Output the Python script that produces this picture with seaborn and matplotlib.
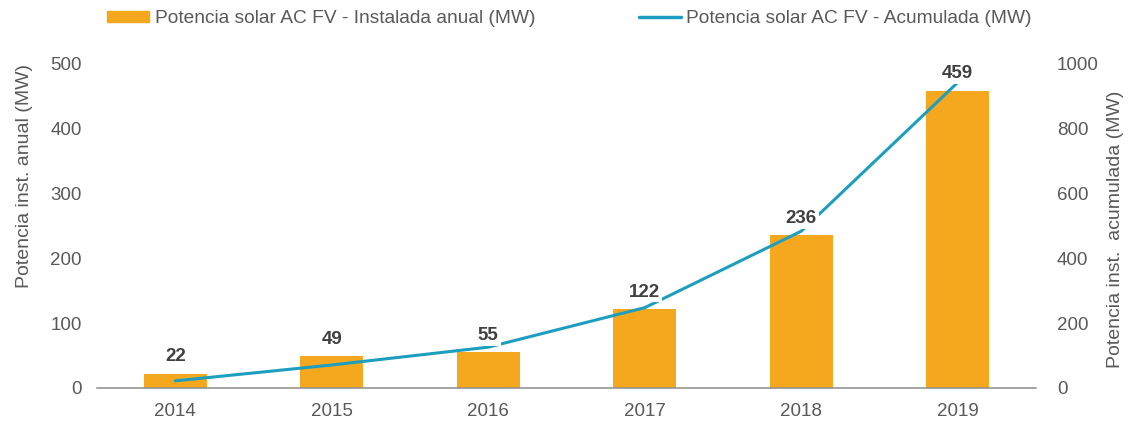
import numpy as np
import seaborn as sns
import matplotlib.pyplot as plt
from matplotlib.patches import Patch
from matplotlib.lines import Line2D

# Data
years = ['2014', '2015', '2016', '2017', '2018', '2019']
annual_mw = [22, 49, 55, 122, 236, 459]
cumulative_mw = [22, 71, 126, 248, 484, 943]

bar_color = '#F5A81E'
line_color = '#1E9EBE'
text_color = '#595959'

sns.set_style('white')
plt.rcParams['font.family'] = ['Liberation Sans', 'DejaVu Sans']

fig = plt.figure(figsize=(11.31, 4.21), dpi=100)
ax1 = fig.add_axes([97 / 1131, 33 / 421, 939 / 1131, 324 / 421])
ax2 = ax1.twinx()

x = np.arange(len(years))

# Bars - annual installed
sns.barplot(x=x, y=annual_mw, ax=ax1, color=bar_color, width=0.4,
            linewidth=0, saturation=1, native_scale=True)

# Line - cumulative
sns.lineplot(x=x, y=cumulative_mw, ax=ax2, color=line_color, linewidth=2.2)

ax1.set_xlim(-0.5, len(years) - 0.5)
ax1.set_ylim(0, 500)
ax2.set_ylim(0, 1000)
ax1.set_yticks(range(0, 501, 100))
ax2.set_yticks(range(0, 1001, 200))
ax1.set_xticks(x)
ax1.set_xticklabels(years)

for ax in (ax1, ax2):
    for s in ax.spines.values():
        s.set_visible(False)
    ax.grid(False)
ax1.spines['bottom'].set_visible(True)
ax1.spines['bottom'].set_color('#8C8C8C')
ax1.spines['bottom'].set_linewidth(1.1)

ax1.tick_params(axis='x', length=0, pad=11, labelsize=13.5, labelcolor=text_color)
ax1.tick_params(axis='y', length=0, pad=11, labelsize=13.5, labelcolor=text_color)
ax2.tick_params(axis='y', length=0, pad=15, labelsize=13.5, labelcolor=text_color)

ax1.set_xlabel('')
ax1.set_ylabel('Potencia inst. anual (MW)', fontsize=14, color=text_color)
ax2.set_ylabel('Potencia inst.  acumulada (MW)', fontsize=14, color=text_color)
ax1.yaxis.set_label_coords(-0.068, 0.655)
ax2.yaxis.set_label_coords(1.076, 0.49)

# Value labels (drawn on ax2 so they sit above the line)
for xi, v in zip(x, annual_mw):
    ax2.annotate(str(v), xy=(xi, v), xycoords=ax1.transData,
                 xytext=(0, 6), textcoords='offset points',
                 ha='center', va='bottom', fontsize=13.5, fontweight='bold',
                 color='#404040',
                 bbox=dict(boxstyle='square,pad=0.1', fc='white', ec='none'))

# Legend
handles = [Patch(color=bar_color), Line2D([], [], color=line_color, linewidth=2.5)]
labels = ['Potencia solar AC FV - Instalada anual (MW)',
          'Potencia solar AC FV - Acumulada (MW)']
leg = fig.legend(handles, labels, loc='upper left', bbox_to_anchor=(107 / 1131, 1 - 10 / 421),
                 ncol=2, frameon=False, fontsize=13.8, handlelength=2.2,
                 handleheight=0.5, handletextpad=0.28, columnspacing=5.4,
                 borderpad=0, borderaxespad=0)
for t in leg.get_texts():
    t.set_color(text_color)

fig.savefig('out.png', dpi=100)
